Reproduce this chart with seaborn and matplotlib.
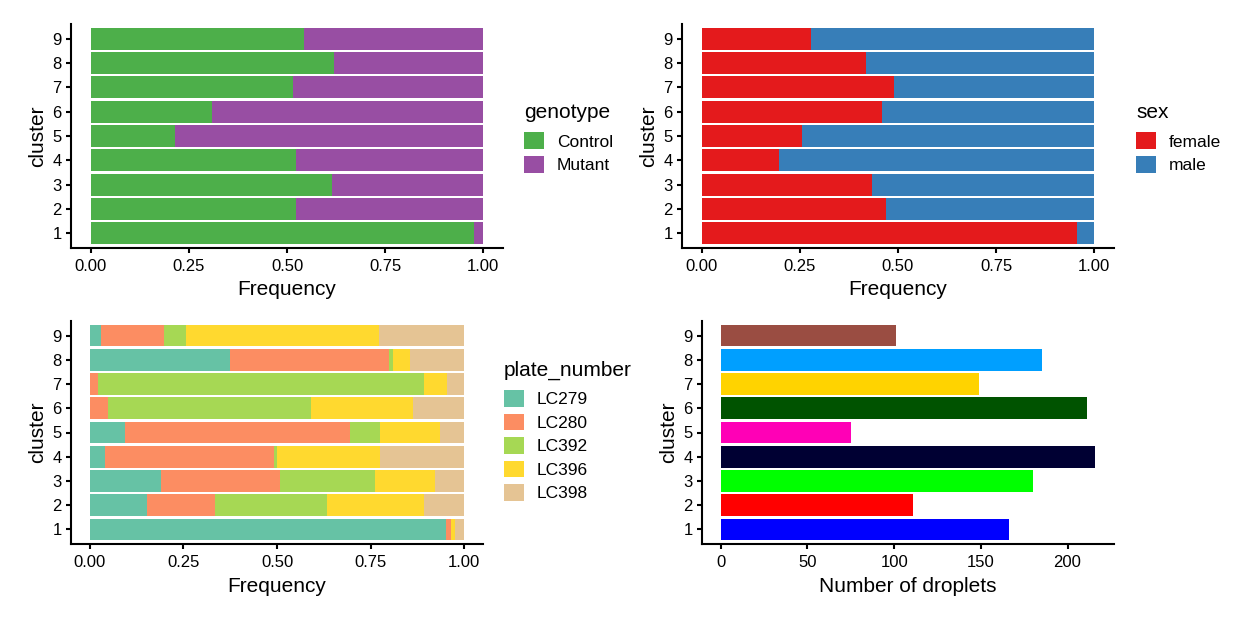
import numpy as np
import pandas as pd
import matplotlib
matplotlib.use("Agg")
import matplotlib.pyplot as plt
from matplotlib.patches import Patch
import seaborn as sns

clusters = ["1", "2", "3", "4", "5", "6", "7", "8", "9"]

genotype_levels = ["Control", "Mutant"]
genotype_control = [0.975, 0.523, 0.615, 0.523, 0.214, 0.309, 0.516, 0.620, 0.544]

sex_levels = ["female", "male"]
sex_female = [0.957, 0.470, 0.434, 0.197, 0.255, 0.460, 0.490, 0.419, 0.278]

plate_levels = ["LC279", "LC280", "LC392", "LC396", "LC398"]
plate_LC279 = [0.952, 0.153, 0.190, 0.042, 0.094, 0.000, 0.000, 0.375, 0.029]
plate_LC280 = [0.013, 0.182, 0.317, 0.449, 0.600, 0.048, 0.021, 0.424, 0.169]
plate_LC392 = [0.000, 0.298, 0.254, 0.010, 0.081, 0.542, 0.872, 0.011, 0.059]
plate_LC396 = [0.011, 0.260, 0.160, 0.274, 0.161, 0.273, 0.061, 0.045, 0.515]

droplets = [166, 111, 180, 216, 75, 211, 149, 185, 101]

freq_ticks = [0.0, 0.25, 0.5, 0.75, 1.0]
freq_ticklabels = ["0.00", "0.25", "0.50", "0.75", "1.00"]
count_ticks = [0, 50, 100, 150, 200]

genotype_colors = ["#4DAF4A", "#984EA3"]
sex_colors = ["#E41A1C", "#377EB8"]
plate_colors = ["#66C2A5", "#FC8D62", "#A6D854", "#FFD92F", "#E5C494"]
cluster_colors = ["#0000FF", "#FF0000", "#00FF00", "#000033", "#FF00B6",
                  "#005300", "#FFD300", "#009FFF", "#9A4D42"]

sns.set_theme(style="ticks")
plt.rcParams["font.family"] = ["Liberation Sans", "DejaVu Sans"]
plt.rcParams["axes.linewidth"] = 1.5
plt.rcParams["xtick.major.width"] = 1.5
plt.rcParams["ytick.major.width"] = 1.5
plt.rcParams["xtick.major.size"] = 3.6
plt.rcParams["ytick.major.size"] = 3.6
plt.rcParams["xtick.major.pad"] = 4
plt.rcParams["ytick.major.pad"] = 3
plt.rcParams["xtick.color"] = "black"
plt.rcParams["ytick.color"] = "black"
plt.rcParams["axes.edgecolor"] = "black"
plt.rcParams["axes.labelcolor"] = "black"
plt.rcParams["text.color"] = "black"

W, H = 1248, 624
fig = plt.figure(figsize=(W / 100, H / 100), dpi=100)


def ax_px(left, right, top, bottom):
    return fig.add_axes([left / W, 1 - bottom / H, (right - left) / W, (bottom - top) / H])


order = clusters[::-1]
TICK_FS = 12
LABEL_FS = 15


def style(ax, xlabel, xlim, xticks, xticklabels):
    sns.despine(ax=ax)
    ax.set_ylim(8.6, -0.6)
    ax.set_xlim(*xlim)
    ax.set_xticks(xticks)
    ax.set_xticklabels(xticklabels, fontsize=TICK_FS)
    ax.tick_params(axis="y", labelsize=TICK_FS)
    ax.set_xlabel(xlabel, fontsize=LABEL_FS, labelpad=5)
    ax.set_ylabel("cluster", fontsize=LABEL_FS, labelpad=3.5)


def stacked(ax, series, colors):
    cums = np.cumsum(np.array(series), axis=0)
    n = len(series)
    # full bar first (last level), then shorter cumulative bars on top
    layers = [np.ones(len(clusters))] + [cums[i] for i in range(n)][::-1]
    layer_colors = [colors[n]] + [colors[i] for i in range(n)][::-1]
    for vals, c in zip(layers, layer_colors):
        df = pd.DataFrame({"cluster": clusters, "value": vals})
        sns.barplot(data=df, x="value", y="cluster", order=order, color=c,
                    orient="h", width=0.9, saturation=1, linewidth=0, ax=ax)


def legend(ax, title, labels, colors, x_px, y_px):
    handles = [Patch(facecolor=c, edgecolor="none") for c in colors]
    leg = ax.legend(handles, labels, title=title, loc="center left",
                    bbox_to_anchor=(x_px / W, 1 - y_px / H), bbox_transform=fig.transFigure,
                    frameon=False, fontsize=12.5, title_fontsize=15, alignment="left",
                    handlelength=1.15, handleheight=1.1, labelspacing=0.36,
                    handletextpad=0.75, borderpad=0, borderaxespad=0)
    leg._legend_box.sep = 7.5
    return leg


# top-left: genotype
ax1 = ax_px(71, 503, 24, 248)
stacked(ax1, [genotype_control], genotype_colors)
style(ax1, "Frequency", (-0.05, 1.05), freq_ticks, freq_ticklabels)
legend(ax1, "genotype", genotype_levels, genotype_colors, 524, 138)

# top-right: sex
ax2 = ax_px(682, 1114, 24, 248)
stacked(ax2, [sex_female], sex_colors)
style(ax2, "Frequency", (-0.05, 1.05), freq_ticks, freq_ticklabels)
legend(ax2, "sex", sex_levels, sex_colors, 1136, 138)

# bottom-left: plate_number
ax3 = ax_px(71, 483, 321, 544)
stacked(ax3, [plate_LC279, plate_LC280, plate_LC392, plate_LC396], plate_colors)
style(ax3, "Frequency", (-0.05, 1.05), freq_ticks, freq_ticklabels)
legend(ax3, "plate_number", plate_levels, plate_colors, 504, 431)

# bottom-right: droplet counts
ax4 = ax_px(702, 1114, 321, 544)
dfc = pd.DataFrame({"cluster": clusters, "count": droplets})
sns.barplot(data=dfc, x="count", y="cluster", order=order, hue="cluster",
            hue_order=clusters, palette=cluster_colors, orient="h", width=0.9,
            saturation=1, linewidth=0, legend=False, ax=ax4)
mx = max(droplets)
style(ax4, "Number of droplets", (-0.05 * mx, 1.05 * mx), count_ticks,
      [str(t) for t in count_ticks])

fig.savefig("out.png", dpi=100, facecolor="white")
